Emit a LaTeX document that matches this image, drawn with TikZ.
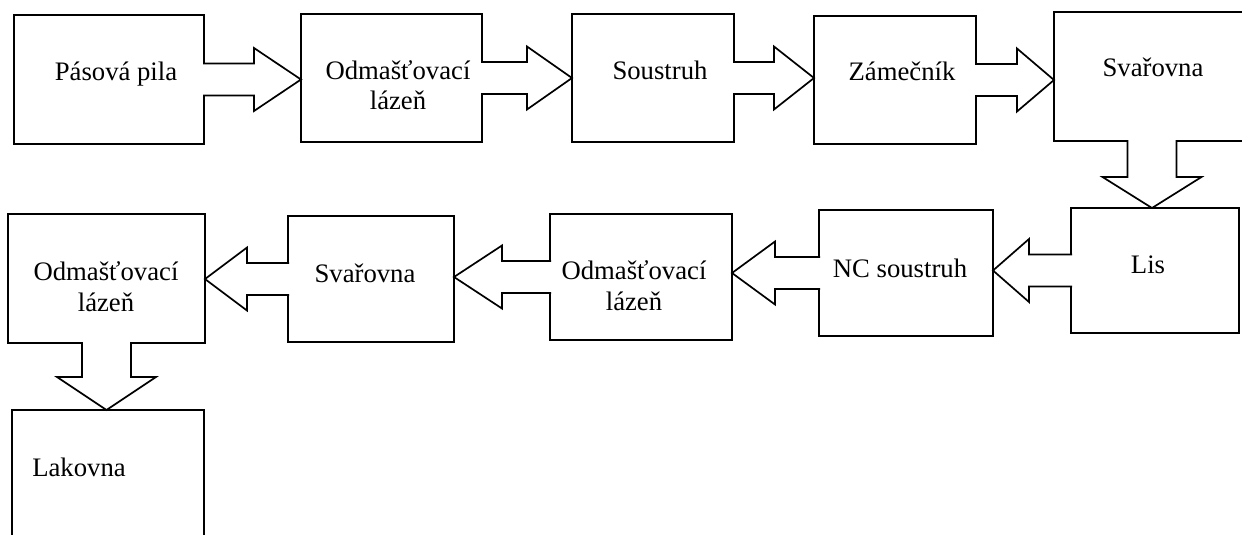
\documentclass[tikz,border=0pt]{standalone}
\usepackage{fontspec}
\setmainfont{Liberation Serif}
\usetikzlibrary{calc}

% block arrows: shaft half-width, head half-width
\newcommand\shaftw{16}
\newcommand\headw{31.5}
\newcommand\vshaftw{24.5}
\newcommand\vheadw{49.5}

% right-pointing block arrow from #1 to #2, head length #3
\newcommand\arrRight[3]{%
  \draw[barrow] let \p1=(#1.east), \p2=(#2.west) in
    (\x1-1pt,\y1+\shaftw pt) -- (\x2-#3pt,\y1+\shaftw pt) -- (\x2-#3pt,\y1+\headw pt)
    -- (\x2,\y1) -- (\x2-#3pt,\y1-\headw pt) -- (\x2-#3pt,\y1-\shaftw pt) -- (\x1-1pt,\y1-\shaftw pt);}
% left-pointing block arrow from #1 to #2, head length #3
\newcommand\arrLeft[3]{%
  \draw[barrow] let \p1=(#1.west), \p2=(#2.east) in
    (\x1+1pt,\y1+\shaftw pt) -- (\x2+#3pt,\y1+\shaftw pt) -- (\x2+#3pt,\y1+\headw pt)
    -- (\x2,\y1) -- (\x2+#3pt,\y1-\headw pt) -- (\x2+#3pt,\y1-\shaftw pt) -- (\x1+1pt,\y1-\shaftw pt);}
% downward block arrow from #1 to #2, head length #3
\newcommand\arrDown[3]{%
  \draw[barrow] let \p1=(#1.south), \p2=(#2.north) in
    (\x1-\vshaftw pt,\y1+1pt) -- (\x1-\vshaftw pt,\y2+#3pt) -- (\x1-\vheadw pt,\y2+#3pt)
    -- (\x1,\y2) -- (\x1+\vheadw pt,\y2+#3pt) -- (\x1+\vshaftw pt,\y2+#3pt) -- (\x1+\vshaftw pt,\y1+1pt);}

\begin{document}
\begin{tikzpicture}[x=1pt,y=-1pt,
  box/.style={draw=black, line width=1.7pt, fill=white, inner sep=0pt, outer sep=0pt},
  barrow/.style={draw=black, line width=1.7pt, fill=white, line join=miter},
  lbl/.style={anchor=base, inner sep=0pt, font=\fontsize{26.7}{31}\selectfont}]
\useasboundingbox (0,0) rectangle (1242,535);
\clip (0,0) rectangle (1242,535);
\fill[white] (0,0) rectangle (1242,535);

% upper row
\node[box, minimum width=190, minimum height=129] (pila) at (109,79.5) {};
\node[box, minimum width=181, minimum height=128] (odm1) at (391.5,78) {};
\node[box, minimum width=162, minimum height=128] (sous) at (653,78) {};
\node[box, minimum width=162, minimum height=128] (zam)  at (895,80) {};
\node[box, minimum width=196, minimum height=129] (svar1) at (1152,76.5) {};

% lower row
\node[box, minimum width=168, minimum height=125] (lis)  at (1155,270.5) {};
\node[box, minimum width=174, minimum height=126] (nc)   at (906,273) {};
\node[box, minimum width=182, minimum height=126] (odm2) at (641,277) {};
\node[box, minimum width=166, minimum height=126] (svar2) at (371,279) {};
\node[box, minimum width=197, minimum height=129] (odm3) at (106.5,278.5) {};
\node[box, minimum width=192, minimum height=150] (lak)  at (108,485) {};

% connectors
\arrRight{pila}{odm1}{47}
\arrRight{odm1}{sous}{45}
\arrRight{sous}{zam}{40}
\arrRight{zam}{svar1}{37}
\arrDown{svar1}{lis}{31}
\arrLeft{lis}{nc}{36}
\arrLeft{nc}{odm2}{43}
\arrLeft{odm2}{svar2}{48}
\arrLeft{svar2}{odm3}{42}
\arrDown{odm3}{lak}{33}

% labels
\node[lbl] (tpila) at (116,81) {Pásová pila};
\node[lbl] (todm1) at (398,79) {\begin{tabular}[t]{@{}c@{}}Odmašťovací\\lázeň\end{tabular}};
\node[lbl] (tsous) at (660,80) {Soustruh};
\node[lbl] (tzam)  at (902,81) {Zámečník};
\node[lbl] (tsvar1) at (1153,77) {Svařovna};
\node[lbl] (tlis)  at (1148,273) {Lis};
\node[lbl] (tnc)   at (900,277) {NC soustruh};
\node[lbl] (todm2) at (634,279) {\begin{tabular}[t]{@{}c@{}}Odmašťovací\\lázeň\end{tabular}};
\node[lbl] (tsvar2) at (365,282) {Svařovna};
\node[lbl] (todm3) at (106,280) {\begin{tabular}[t]{@{}c@{}}Odmašťovací\\lázeň\end{tabular}};
\node[lbl] (tlak)  at (79,476) {Lakovna};
\end{tikzpicture}
\end{document}
